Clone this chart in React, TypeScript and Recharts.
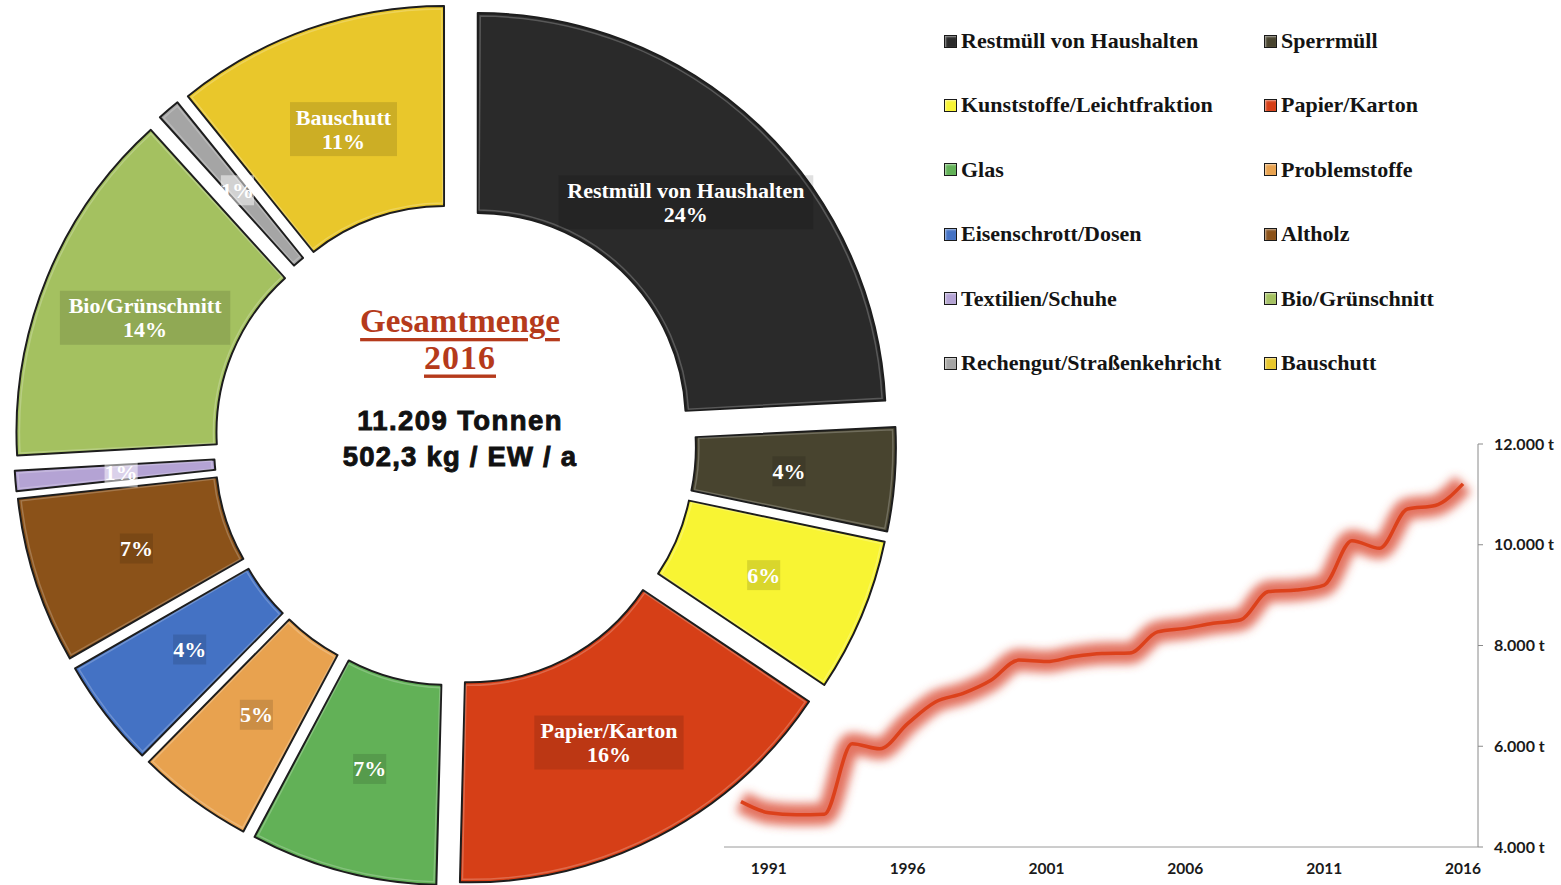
import React from 'react';
import { PieChart, Pie, Sector, Legend, LineChart, Line, XAxis, YAxis } from 'recharts';

// ---------- data ----------
const categories = [
  'Restmüll von Haushalten',
  'Sperrmüll',
  'Kunststoffe/Leichtfraktion',
  'Papier/Karton',
  'Glas',
  'Problemstoffe',
  'Eisenschrott/Dosen',
  'Altholz',
  'Textilien/Schuhe',
  'Bio/Grünschnitt',
  'Rechengut/Straßenkehricht',
  'Bauschutt',
];
const shares = [24.2, 4.1, 6.1, 16.0, 7.4, 4.6, 4.3, 6.6, 0.8, 14.2, 0.9, 10.8];
const sliceColors = [
  '#2a2a2a', '#48442f', '#f8f433', '#d63f17', '#62b157', '#e8a24f',
  '#4472c4', '#8b5219', '#b4a3d4', '#a4c160', '#a5a5a5', '#e9c72b',
];
const labelWithName = [true, false, false, true, false, false, false, false, false, true, false, true];

const years = [
  1990, 1991, 1992, 1993, 1994, 1995, 1996, 1997, 1998, 1999, 2000, 2001, 2002, 2003,
  2004, 2005, 2006, 2007, 2008, 2009, 2010, 2011, 2012, 2013, 2014, 2015, 2016,
];
const totals = [
  4900, 4680, 4640, 4650, 6050, 5950, 6450, 6880, 7050, 7310, 7710, 7680, 7780, 7840,
  7850, 8270, 8340, 8440, 8510, 9070, 9100, 9200, 10080, 9930, 10710, 10780, 11209,
];
const xTicks = [1991, 1996, 2001, 2006, 2011, 2016];
const yTicks = [4000, 6000, 8000, 10000, 12000];

const pieData = categories.map((name, i) => ({ name, value: shares[i] }));
const lineData = years.map((year, i) => ({ year, total: totals[i] }));

// ---------- styling ----------
const W = 1561;
const H = 885;
const PIE_CX = 455;
const PIE_CY = 445;
const EXPLODE = 33;
const RAD = Math.PI / 180;
const SERIF = "'Liberation Serif', 'Times New Roman', serif";
const SANS = "'Liberation Sans', Arial, sans-serif";
const AXIS_FONT = "Lato, 'Noto Sans', sans-serif";

function explodedCenter(p: any) {
  return {
    x: p.cx + EXPLODE * Math.cos(-p.midAngle * RAD),
    y: p.cy + EXPLODE * Math.sin(-p.midAngle * RAD),
  };
}

function renderSlice(p: any) {
  const c = explodedCenter(p);
  return (
    <g>
      <Sector
        cx={c.x}
        cy={c.y}
        innerRadius={p.innerRadius}
        outerRadius={p.outerRadius}
        startAngle={p.startAngle}
        endAngle={p.endAngle}
        fill={sliceColors[p.index]}
        stroke="#1d1d1d"
        strokeWidth={2}
        strokeLinejoin="round"
      />
      <Sector
        cx={c.x}
        cy={c.y}
        innerRadius={p.innerRadius + 3}
        outerRadius={p.outerRadius - 3}
        startAngle={p.startAngle - 0.35}
        endAngle={p.endAngle + 0.35}
        fill="none"
        stroke="rgba(255,255,255,0.22)"
        strokeWidth={1.5}
      />
    </g>
  );
}

function renderSliceText(p: any) {
  const c = explodedCenter(p);
  const r = (p.innerRadius + p.outerRadius) / 2 - 6;
  const x = c.x + r * Math.cos(-p.midAngle * RAD);
  const y = c.y + r * Math.sin(-p.midAngle * RAD);
  const pct = `${Math.round(p.percent * 100)}%`;
  const lines = labelWithName[p.index] ? [categories[p.index], pct] : [pct];
  const fs = 22;
  const lh = 24;
  const longest = Math.max(...lines.map((l) => l.length));
  const w = longest * fs * 0.48 + 12;
  const h = lines.length * lh + 6;
  const small = p.percent < 0.02;
  return (
    <g>
      <rect
        x={x - w / 2}
        y={y - h / 2}
        width={w}
        height={h}
        fill={small ? 'rgba(255,255,255,0.5)' : 'rgba(0,0,0,0.12)'}
      />
      {lines.map((l, k) => (
        <text
          key={k}
          x={x}
          y={y + (k - (lines.length - 1) / 2) * lh}
          textAnchor="middle"
          dominantBaseline="central"
          fill="#ffffff"
          fontFamily={SERIF}
          fontWeight="bold"
          fontSize={fs}
        >
          {l}
        </text>
      ))}
    </g>
  );
}

function renderLegend() {
  return (
    <div style={{ position: 'relative', width: 600, height: 360 }}>
      {categories.map((name, i) => {
        const col = i % 2;
        const row = Math.floor(i / 2);
        return (
          <div
            key={name}
            style={{
              position: 'absolute',
              left: col * 320,
              top: row * 64.4,
              height: 30,
              display: 'flex',
              alignItems: 'center',
              whiteSpace: 'nowrap',
            }}
          >
            <span
              style={{
                display: 'inline-block',
                width: 11,
                height: 11,
                background: sliceColors[i],
                border: '1px solid #1a1a1a',
                boxShadow: 'inset 1px 1px 2px rgba(255,255,255,0.55)',
                marginRight: 4,
              }}
            />
            <span style={{ fontFamily: SERIF, fontWeight: 'bold', fontSize: 22, color: '#141414' }}>{name}</span>
          </div>
        );
      })}
    </div>
  );
}

function fmtTonnes(v: number) {
  const th = Math.floor(v / 1000);
  const rest = String(v % 1000).padStart(3, '0');
  return `${th}.${rest} t`;
}

export default function App() {
  return (
    <div style={{ position: 'absolute', left: 0, top: 0, width: W, height: H, background: '#ffffff', overflow: 'hidden' }}>
      <div style={{ position: 'absolute', left: 0, top: 0 }}>
        <PieChart width={W} height={H} margin={{ top: 0, right: 0, bottom: 0, left: 0 }}>
          <Pie
            data={pieData}
            dataKey="value"
            nameKey="name"
            cx={PIE_CX}
            cy={PIE_CY}
            innerRadius={208}
            outerRadius={408}
            startAngle={90}
            endAngle={-270}
            fill="transparent"
            stroke="none"
            label={renderSlice}
            labelLine={false}
            isAnimationActive={false}
          />
          <Pie
            data={pieData}
            dataKey="value"
            nameKey="name"
            cx={PIE_CX}
            cy={PIE_CY}
            innerRadius={208}
            outerRadius={408}
            startAngle={90}
            endAngle={-270}
            fill="transparent"
            stroke="none"
            label={renderSliceText}
            labelLine={false}
            isAnimationActive={false}
            legendType="none"
          />
          <text
            x={PIE_CX + 5}
            y={321}
            textAnchor="middle"
            dominantBaseline="central"
            fontFamily={SERIF}
            fontWeight="bold"
            fontSize={33}
            fill="#b53a1b"
            textDecoration="underline"
          >
            Gesamtmenge
          </text>
          <text
            x={PIE_CX + 5}
            y={357}
            textAnchor="middle"
            dominantBaseline="central"
            fontFamily={SERIF}
            fontWeight="bold"
            fontSize={34}
            letterSpacing={1}
            fill="#b53a1b"
            textDecoration="underline"
          >
            2016
          </text>
          <text
            x={PIE_CX + 5}
            y={420}
            textAnchor="middle"
            dominantBaseline="central"
            fontFamily={SANS}
            fontWeight="bold"
            fontSize={27.5}
            letterSpacing={1.4}
            fill="#111"
            stroke="#111"
            strokeWidth={0.9}
          >
            11.209 Tonnen
          </text>
          <text
            x={PIE_CX + 5}
            y={456}
            textAnchor="middle"
            dominantBaseline="central"
            fontFamily={SANS}
            fontWeight="bold"
            fontSize={27.5}
            letterSpacing={1.2}
            fill="#111"
            stroke="#111"
            strokeWidth={0.9}
          >
            502,3 kg / EW / a
          </text>
          <Legend
            content={renderLegend}
            wrapperStyle={{ position: 'absolute', left: 944, top: 26, width: 600, height: 360, bottom: 'auto' }}
          />
        </PieChart>
      </div>
      <div style={{ position: 'absolute', left: 0, top: 0, pointerEvents: 'none' }}>
        <LineChart width={W} height={H} data={lineData} margin={{ top: 444, right: 0, bottom: 0, left: 724 }}>
          <defs>
            <filter id="glowBlur" x="-10%" y="-30%" width="120%" height="160%">
              <feGaussianBlur stdDeviation="5" />
            </filter>
          </defs>
          <XAxis
            dataKey="year"
            type="number"
            domain={[1990, 2016]}
            ticks={xTicks}
            padding={{ left: 17, right: 15 }}
            height={38}
            axisLine={{ stroke: '#9a9a9a' }}
            tickLine={false}
            tickSize={0}
            tickMargin={16}
            interval={0}
            tick={{ fontFamily: AXIS_FONT, fontWeight: 'bold', fontSize: 15.5, fill: '#1a1a1a' }}
          />
          <YAxis
            orientation="right"
            domain={[4000, 12000]}
            ticks={yTicks}
            width={83}
            axisLine={{ stroke: '#8a8a8a' }}
            tickLine={{ stroke: '#8a8a8a' }}
            tickSize={5}
            tickMargin={11}
            interval={0}
            tickFormatter={fmtTonnes}
            tick={{ fontFamily: AXIS_FONT, fontWeight: 'bold', fontSize: 16, fill: '#1a1a1a' }}
          />
          <Line
            dataKey="total"
            type="monotone"
            stroke="#dc4f3a"
            strokeOpacity={0.8}
            strokeWidth={22}
            filter="url(#glowBlur)"
            dot={false}
            activeDot={false}
            isAnimationActive={false}
          />
          <Line
            dataKey="total"
            type="monotone"
            stroke="#dc411b"
            strokeWidth={3.5}
            dot={false}
            activeDot={false}
            isAnimationActive={false}
          />
        </LineChart>
      </div>
    </div>
  );
}
